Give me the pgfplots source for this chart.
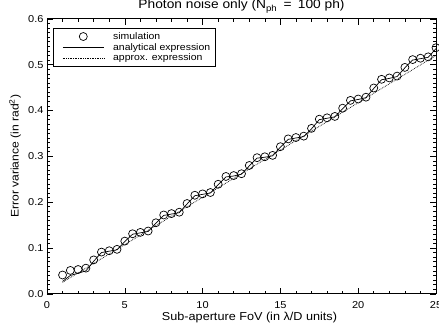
\documentclass[border=0pt]{standalone}
\usepackage{fontspec}
\setmainfont[FakeStretch=1.1]{Liberation Sans}
\usepackage{pgfplots}
\pgfplotsset{compat=1.18}
\pgfplotsset{mylegimg/.style={legend image code/.code={\path (0pt,0pt) (54pt,0pt);\draw[mark repeat=2,mark phase=2] plot coordinates {(6pt,0pt) (26.5pt,0pt) (47pt,0pt)};}}}
\begin{document}
\begin{tikzpicture}
\path[use as bounding box] (-47pt,-38.7pt) rectangle (392pt,293.8pt);
\begin{axis}[
  at={(0,0)}, anchor=south west, scale only axis,
  width=389pt, height=275pt,
  xmin=0, xmax=25, ymin=0, ymax=0.6,
  xtick={0,5,10,15,20,25}, minor x tick num=4,
  ytick={0,0.1,0.2,0.3,0.4,0.5,0.6}, minor y tick num=9,
  tick align=inside, major tick length=6pt, minor tick length=3pt,
  tick style={black, line width=0.6pt},
  axis line style={line width=0.8pt},
  /pgf/number format/assume math mode=true,
  ticklabel style={font=\fontsize{10}{12}\selectfont},
  yticklabel style={/pgf/number format/.cd, fixed, fixed zerofill, precision=1},
  xticklabel style={yshift=-4pt},
  title={Photon noise only (N\textsubscript{ph}\hspace{0.5em}=\hspace{0.5em}100 ph)},
  title style={at={(0.5,1)}, anchor=base, yshift=4pt, font=\fontsize{12.5}{14}\selectfont},
  xlabel={Sub-aperture FoV (in λ/D units)},
  xlabel style={at={(0.5,0)}, anchor=base, yshift=-27pt, xshift=8pt, font=\fontsize{11.5}{13}\selectfont},
  ylabel={Error variance (in rad\textsuperscript{2})},
  ylabel style={at={(axis description cs:-0.0823,0.5)}, anchor=center, font=\fontsize{11}{13}\selectfont},
  legend cell align=left,
  legend style={at={(0.0154,0.965)}, anchor=north west, draw=black, line width=0.8pt,
    font=\fontsize{9.5}{11}\selectfont, row sep=-1.5pt, inner xsep=3pt, inner ysep=1.5pt},
]
\addplot[only marks, mark=o, mark size=4pt, mark options={line width=0.7pt, black}, mylegimg] coordinates {
(1,0.041) (1.5,0.051) (2,0.053) (2.5,0.056) (3,0.074)
(3.5,0.091) (4,0.094) (4.5,0.097) (5,0.115)
(5.5,0.131) (6,0.134) (6.5,0.137) (7,0.155)
(7.5,0.172) (8,0.175) (8.5,0.178) (9,0.197)
(9.5,0.215) (10,0.218) (10.5,0.221) (11,0.239)
(11.5,0.256) (12,0.258) (12.5,0.262) (13,0.280)
(13.5,0.297) (14,0.299) (14.5,0.302) (15,0.321)
(15.5,0.338) (16,0.341) (16.5,0.344) (17,0.361)
(17.5,0.381) (18,0.384) (18.5,0.387) (19,0.405)
(19.5,0.422) (20,0.425) (20.5,0.429) (21,0.449)
(21.5,0.468) (22,0.471) (22.5,0.475) (23,0.494)
(23.5,0.511) (24,0.514) (24.5,0.517) (25,0.537)
};
\addlegendentry{simulation}
\addplot[black, line width=0.7pt, mylegimg] coordinates {
(1,0.027) (1.5,0.040) (2,0.045) (2.5,0.050) (3,0.071)
(3.5,0.090) (4,0.093) (4.5,0.096) (5,0.114)
(5.5,0.130) (6,0.133) (6.5,0.136) (7,0.154)
(7.5,0.171) (8,0.174) (8.5,0.177) (9,0.196)
(9.5,0.214) (10,0.217) (10.5,0.220) (11,0.238)
(11.5,0.255) (12,0.257) (12.5,0.261) (13,0.279)
(13.5,0.296) (14,0.298) (14.5,0.301) (15,0.320)
(15.5,0.337) (16,0.340) (16.5,0.343) (17,0.360)
(17.5,0.380) (18,0.383) (18.5,0.386) (19,0.404)
(19.5,0.421) (20,0.424) (20.5,0.428) (21,0.448)
(21.5,0.467) (22,0.470) (22.5,0.474) (23,0.493)
(23.5,0.510) (24,0.513) (24.5,0.516) (25,0.535)
};
\addlegendentry{analytical expression}
\addplot[black, densely dotted, line width=0.7pt, mylegimg] coordinates {(1,0.025) (25,0.52)};
\addlegendentry{approx. expression}
\end{axis}
\end{tikzpicture}
\end{document}
